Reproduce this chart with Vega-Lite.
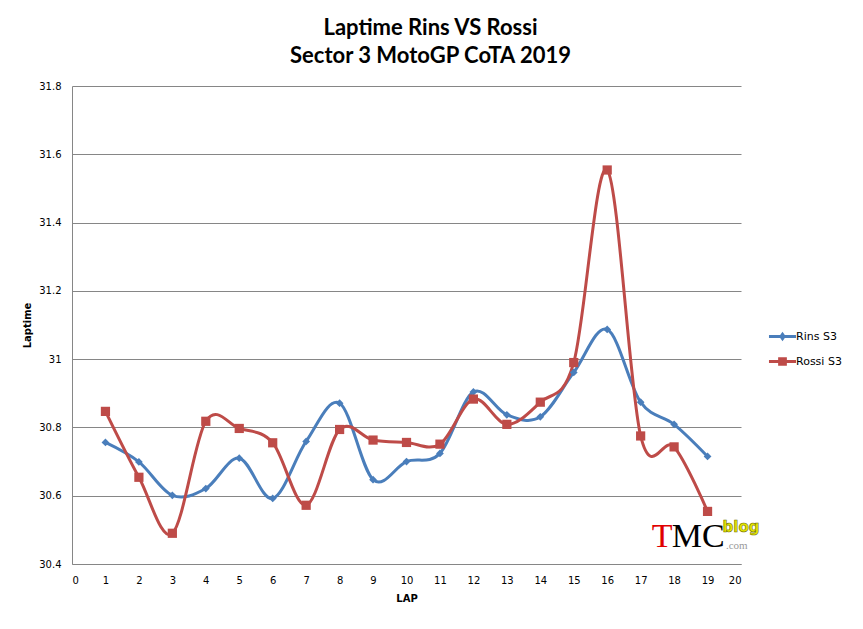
{
  "$schema": "https://vega.github.io/schema/vega-lite/v6.json",
  "width": 669,
  "height": 478,
  "autosize": "none",
  "padding": {"left": 72, "top": 86, "right": 122, "bottom": 65},
  "background": "white",
  "title": {
    "text": ["Laptime Rins VS Rossi", "Sector 3 MotoGP CoTA 2019"],
    "font": "Lato",
    "fontSize": 22,
    "fontWeight": "bold",
    "color": "black",
    "anchor": "middle",
    "dx": 24,
    "lineHeight": 28,
    "offset": 13
  },
  "data": {
    "values": [
      {"lap": 1, "series": "Rins S3", "time": 30.756},
      {"lap": 2, "series": "Rins S3", "time": 30.699},
      {"lap": 3, "series": "Rins S3", "time": 30.601},
      {"lap": 4, "series": "Rins S3", "time": 30.621},
      {"lap": 5, "series": "Rins S3", "time": 30.710},
      {"lap": 6, "series": "Rins S3", "time": 30.592},
      {"lap": 7, "series": "Rins S3", "time": 30.759},
      {"lap": 8, "series": "Rins S3", "time": 30.871},
      {"lap": 9, "series": "Rins S3", "time": 30.647},
      {"lap": 10, "series": "Rins S3", "time": 30.700},
      {"lap": 11, "series": "Rins S3", "time": 30.724},
      {"lap": 12, "series": "Rins S3", "time": 30.904},
      {"lap": 13, "series": "Rins S3", "time": 30.837},
      {"lap": 14, "series": "Rins S3", "time": 30.831},
      {"lap": 15, "series": "Rins S3", "time": 30.961},
      {"lap": 16, "series": "Rins S3", "time": 31.087},
      {"lap": 17, "series": "Rins S3", "time": 30.874},
      {"lap": 18, "series": "Rins S3", "time": 30.809},
      {"lap": 19, "series": "Rins S3", "time": 30.715},
      {"lap": 1, "series": "Rossi S3", "time": 30.847},
      {"lap": 2, "series": "Rossi S3", "time": 30.654},
      {"lap": 3, "series": "Rossi S3", "time": 30.490},
      {"lap": 4, "series": "Rossi S3", "time": 30.818},
      {"lap": 5, "series": "Rossi S3", "time": 30.797},
      {"lap": 6, "series": "Rossi S3", "time": 30.755},
      {"lap": 7, "series": "Rossi S3", "time": 30.572},
      {"lap": 8, "series": "Rossi S3", "time": 30.794},
      {"lap": 9, "series": "Rossi S3", "time": 30.763},
      {"lap": 10, "series": "Rossi S3", "time": 30.756},
      {"lap": 11, "series": "Rossi S3", "time": 30.751},
      {"lap": 12, "series": "Rossi S3", "time": 30.883},
      {"lap": 13, "series": "Rossi S3", "time": 30.809},
      {"lap": 14, "series": "Rossi S3", "time": 30.874},
      {"lap": 15, "series": "Rossi S3", "time": 30.990},
      {"lap": 16, "series": "Rossi S3", "time": 31.554},
      {"lap": 17, "series": "Rossi S3", "time": 30.775},
      {"lap": 18, "series": "Rossi S3", "time": 30.743},
      {"lap": 19, "series": "Rossi S3", "time": 30.554}
    ]
  },
  "encoding": {
    "x": {
      "field": "lap",
      "type": "quantitative",
      "title": "LAP",
      "scale": {"domain": [0, 20], "nice": false},
      "axis": {
        "values": [0, 1, 2, 3, 4, 5, 6, 7, 8, 9, 10, 11, 12, 13, 14, 15, 16, 17, 18, 19, 20],
        "grid": false,
        "ticks": false,
        "labelOverlap": false,
        "labelPadding": 11,
        "titlePadding": 8
      }
    },
    "y": {
      "field": "time",
      "type": "quantitative",
      "title": "Laptime",
      "scale": {"domain": [30.4, 31.8], "nice": false, "zero": false},
      "axis": {
        "values": [30.4, 30.6, 30.8, 31, 31.2, 31.4, 31.6, 31.8],
        "format": ".3~r",
        "ticks": false,
        "labelOverlap": false,
        "labelPadding": 11,
        "titlePadding": 6
      }
    }
  },
  "layer": [
    {
      "mark": {"type": "line", "interpolate": "cardinal", "strokeWidth": 3},
      "encoding": {
        "color": {
          "field": "series",
          "type": "nominal",
          "scale": {"domain": ["Rins S3", "Rossi S3"], "range": ["#4A7EBB", "#BE4B48"]}
        },
        "detail": {"field": "series"}
      }
    },
    {
      "transform": [{"filter": "datum.series === 'Rins S3'"}],
      "mark": {"type": "point", "shape": "diamond", "filled": true, "opacity": 1, "size": 60, "color": "#4A7EBB"}
    },
    {
      "transform": [{"filter": "datum.series === 'Rossi S3'"}],
      "mark": {"type": "point", "shape": "square", "filled": true, "opacity": 1, "size": 85, "color": "#BE4B48"}
    },
    {
      "mark": {"type": "point", "filled": true, "opacity": 0},
      "encoding": {
        "color": {
          "field": "series",
          "type": "nominal",
          "scale": {"domain": ["Rins S3", "Rossi S3"], "range": ["#4A7EBB", "#BE4B48"]},
          "legend": {
            "title": null,
            "orient": "none",
            "legendX": 700,
            "legendY": 240,
            "symbolOpacity": 1,
            "symbolSize": 433,
            "symbolStrokeWidth": 0,
            "rowPadding": 9,
            "labelFont": "DejaVu Sans",
            "labelFontSize": 11,
            "labelColor": "black",
            "labelOffset": 3
          }
        },
        "shape": {
          "field": "series",
          "type": "nominal",
          "scale": {
            "domain": ["Rins S3", "Rossi S3"],
            "range": [
              "M-1.3,-0.145H1.3V0.145H-1.3Z M0,-0.45L0.32,0L0,0.45L-0.32,0Z",
              "M-1.3,-0.145H1.3V0.145H-1.3Z M-0.42,-0.42H0.42V0.42H-0.42Z"
            ]
          },
          "legend": {
            "title": null,
            "orient": "none",
            "legendX": 700,
            "legendY": 240,
            "symbolOpacity": 1,
            "symbolSize": 433,
            "symbolStrokeWidth": 0,
            "rowPadding": 9,
            "labelFont": "DejaVu Sans",
            "labelFontSize": 11,
            "labelColor": "black",
            "labelOffset": 3
          }
        }
      }
    },
    {
      "transform": [{"filter": "datum.lap === 19 && datum.series === 'Rossi S3'"}],
      "mark": {"type": "text", "text": "T", "font": "Liberation Serif", "fontSize": 34, "color": "#E00000", "align": "left", "baseline": "alphabetic"},
      "encoding": {"x": {"datum": 17.33}, "y": {"datum": 30.45}}
    },
    {
      "transform": [{"filter": "datum.lap === 19 && datum.series === 'Rossi S3'"}],
      "mark": {"type": "text", "text": "MC", "font": "Liberation Serif", "fontSize": 34, "color": "black", "align": "left", "baseline": "alphabetic"},
      "encoding": {"x": {"datum": 17.93}, "y": {"datum": 30.45}}
    },
    {
      "transform": [{"filter": "datum.lap === 19 && datum.series === 'Rossi S3'"}],
      "mark": {"type": "text", "text": "blog", "font": "DejaVu Sans", "fontSize": 15, "fontWeight": "bold", "color": "#E6E600", "stroke": "#707000", "strokeWidth": 0.6, "align": "left", "baseline": "alphabetic"},
      "encoding": {"x": {"datum": 19.45}, "y": {"datum": 30.495}}
    },
    {
      "transform": [{"filter": "datum.lap === 19 && datum.series === 'Rossi S3'"}],
      "mark": {"type": "text", "text": ".com", "font": "Liberation Serif", "fontSize": 11, "color": "#9A9A9A", "align": "left", "baseline": "alphabetic"},
      "encoding": {"x": {"datum": 19.55}, "y": {"datum": 30.444}}
    }
  ],
  "config": {
    "view": {"stroke": null},
    "axis": {
      "domainColor": "#868686",
      "gridColor": "#868686",
      "gridWidth": 1,
      "labelFont": "DejaVu Sans",
      "labelFontSize": 10,
      "labelColor": "black",
      "titleFont": "DejaVu Sans",
      "titleFontSize": 10,
      "titleFontWeight": "bold",
      "titleColor": "black"
    }
  }
}
